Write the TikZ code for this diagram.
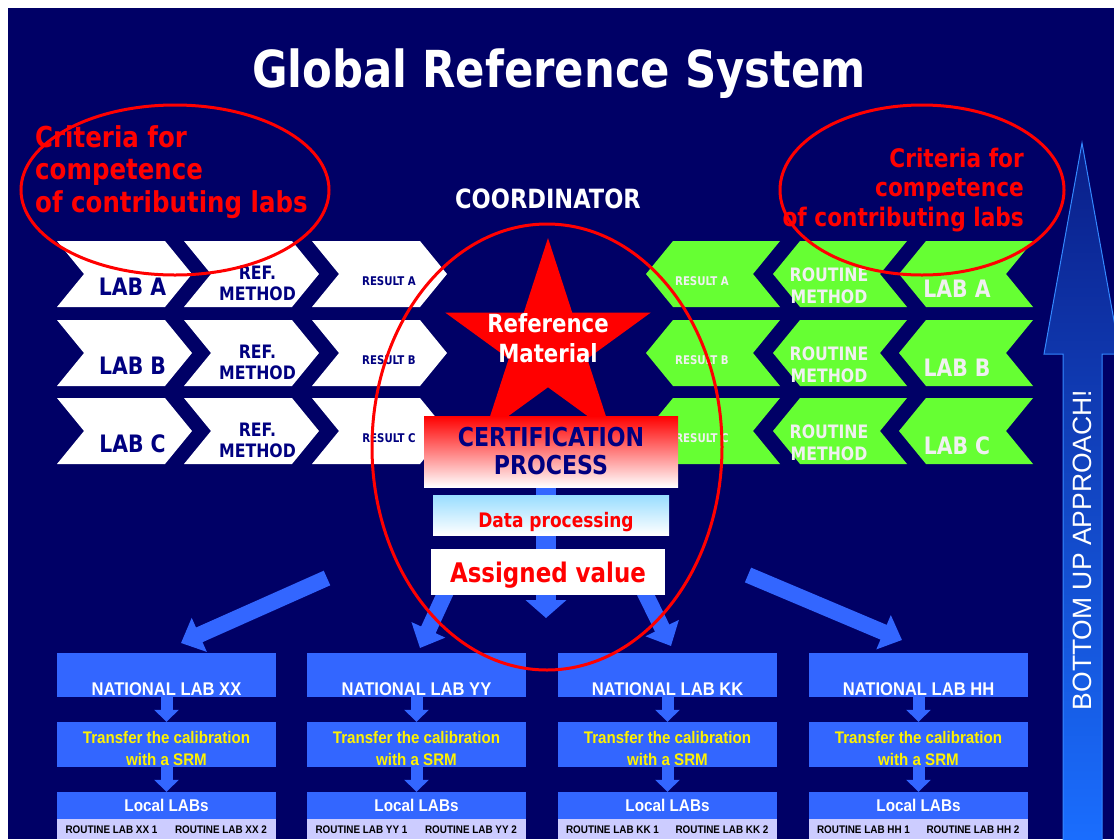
\documentclass[tikz,border=0pt]{standalone}
\usepackage{fontspec}
\setmainfont{DejaVu Sans}[FakeStretch=0.85]
\newfontfamily\arialfont{Liberation Sans}[FakeStretch=0.9]
\newfontfamily\arialplain{Liberation Sans}
\usepackage{tikz}
\usetikzlibrary{positioning, arrows.meta, shapes.geometric, calc}

\definecolor{bgnavy}{HTML}{000066}
\definecolor{labnavy}{HTML}{000080}
\definecolor{boxblue}{HTML}{3366FF}
\definecolor{chevgreen}{HTML}{66FF33}
\definecolor{stripviolet}{HTML}{CCCCFF}
\definecolor{paletext}{HTML}{F0F0F0}
\definecolor{skyblue}{HTML}{99DDFF}
\definecolor{updark}{HTML}{0A1E88}
\definecolor{uplight}{HTML}{1A6EFF}
\definecolor{upedge}{HTML}{3388FF}

\begin{document}
\begin{tikzpicture}[x=1pt, y=-1pt,
  txt/.style={anchor=base, inner sep=0pt, font=\bfseries},
  navytxt/.style={txt, text=labnavy},
  greentxt/.style={txt, text=paletext},
  bigarrow/.style={boxblue, line width=16pt, -{Triangle[length=20pt,width=36pt]}},
  midarrow/.style={boxblue, line width=20pt, -{Triangle[length=18pt,width=40pt]}},
  smallarrow/.style={boxblue, line width=12pt, -{Triangle[length=12pt,width=24pt]}},
  natbox/.style={fill=boxblue, minimum width=219pt, minimum height=44pt, inner sep=0pt,
    text height=40pt, text depth=0pt, text=white, font=\arialfont\bfseries\fontsize{18.4}{20}\selectfont},
  trbox/.style={fill=boxblue, minimum width=219pt, minimum height=45pt, inner sep=0pt,
    text height=41pt, text depth=0pt,
    align=center, text=yellow, font=\arialfont\bfseries\fontsize{16.8}{22}\selectfont},
  locbox/.style={fill=boxblue, minimum width=219pt, minimum height=27pt, inner sep=0pt,
    text=white, font=\arialfont\bfseries\fontsize{17}{20}\selectfont},
  stripbox/.style={fill=stripviolet, minimum width=219pt, minimum height=20pt, inner sep=0pt},
  striptxt/.style={anchor=base, inner sep=0pt, font=\arialfont\bfseries\fontsize{11}{12}\selectfont},
  ringmark/.style={red, line width=3pt},
]
  % Frame
  \useasboundingbox (0,0) rectangle (1114,839);
  \fill[white] (0,0) rectangle (1114,839);
  \fill[bgnavy] (8,8) rectangle (1114,839);

  % Title
  \node[txt, text=white, font=\bfseries\fontsize{51}{55}\selectfont] (title) at (559,87) {Global Reference System};
  \node[txt, text=white, font=\bfseries\fontsize{26.5}{28}\selectfont] (coord) at (548,208) {COORDINATOR};

  % Reference side: labs, methods, results
  \foreach \yt/\r in {241/A,320/B,398/C}{
    \foreach \xl in {57,184,312}{
      \fill[white] (\xl,\yt) -- ++(108,0) -- ++(27,33) -- ++(-27,33) -- ++(-108,0) -- ++(27,-33) -- cycle;
    }
    \node[navytxt, font=\bfseries\fontsize{24}{26}\selectfont] (refLab\r) at (132.5,\yt+54) {LAB \r};
    \node[navytxt, align=center, font=\bfseries\fontsize{18.5}{21}\selectfont] (refMeth\r) at (257.5,\yt+59) {REF.\\METHOD};
    \node[navytxt, font=\bfseries\fontsize{12}{13}\selectfont] (refRes\r) at (389,\yt+44) {RESULT \r};
  }

  % Routine side
  \foreach \yt/\r in {241/A,320/B,398/C}{
    \foreach \xr in {780,907,1033}{
      \fill[chevgreen] (\xr,\yt) -- ++(-107,0) -- ++(-27,33) -- ++(27,33) -- ++(107,0) -- ++(-27,-33) -- cycle;
    }
    \node[greentxt, font=\bfseries\fontsize{12}{13}\selectfont] (rouRes\r) at (702,\yt+44) {RESULT \r};
    \node[greentxt, align=center, font=\bfseries\fontsize{18.5}{22}\selectfont] (rouMeth\r) at (829,\yt+62) {ROUTINE\\METHOD};
    \node[greentxt, font=\bfseries\fontsize{24}{26}\selectfont] (rouLab\r) at (957,\yt+56) {LAB \r};
  }

  % Bottom up arrow
  \shade[top color=updark, bottom color=uplight, draw=upedge, line width=1pt]
    (1082,143) -- (1120,354) -- (1102,354) -- (1102,845) -- (1063,845) -- (1063,354) -- (1044,354) -- cycle;
  \node[rotate=90, inner sep=0pt, text=white, font=\arialplain\fontsize{26.5}{28}\selectfont] (bottomup) at (1082,550) {BOTTOM UP APPROACH!};

  % Certification chain
  \coordinate (chainTop) at (546,487);
  \coordinate (chainEnd) at (546,618);
  \draw[midarrow] (chainTop) -- (chainEnd);
  \coordinate (d2s) at (449,585);
  \coordinate (d2e) at (420,648);
  \coordinate (d4s) at (641,585);
  \coordinate (d4e) at (671,646);
  \draw[bigarrow] (d2s) -- (d2e);
  \draw[bigarrow] (d4s) -- (d4e);

  \node[star, star points=5, star point ratio=2.618, minimum size=216pt, inner sep=0pt, fill=red] (star) at (548,346) {};
  \node[txt, text=white, align=center, font=\bfseries\fontsize{25}{30}\selectfont] (refmat) at (548,362) {Reference\\Material};

  \node[top color=red, bottom color=white, minimum width=254pt, minimum height=71pt, inner sep=0pt,
    align=center, text=labnavy, font=\bfseries\fontsize{26}{28}\selectfont] (cert) at (551,451.5) {CERTIFICATION\\PROCESS};
  \node[top color=skyblue, bottom color=white, minimum width=236pt, minimum height=40pt, inner sep=0pt,
    text height=24pt, text depth=0pt, text=red, font=\bfseries\fontsize{20}{22}\selectfont] (dataproc) at (551,515) {\hspace{10pt}Data processing};
  \node[fill=white, minimum width=234pt, minimum height=46pt, inner sep=0pt,
    text height=20pt, text depth=0pt, text=red, font=\bfseries\fontsize{27}{29}\selectfont] (assigned) at (548,572) {Assigned value};

  % Outer distribution arrows
  \coordinate (d1s) at (327,578);
  \coordinate (d1e) at (181,643);
  \coordinate (d5s) at (748,575);
  \coordinate (d5e) at (902,640);
  \draw[bigarrow] (d1s) -- (d1e);
  \draw[bigarrow] (d5s) -- (d5e);

  % National labs
  \foreach \xo/\tag in {57/XX,307/YY,558/KK,809/HH}{
    \node[natbox] (nat\tag) at (\xo+109.5,675) {NATIONAL LAB \tag};
    \node[trbox] (tr\tag) at (\xo+109.5,744.5) {Transfer the calibration\\with a SRM};
    \node[locbox] (loc\tag) at (\xo+109.5,805.5) {Local LABs};
    \node[stripbox] (strip\tag) at (\xo+109.5,829) {};
    \node[striptxt] (rl\tag-1) at (\xo+54.5,833) {ROUTINE LAB \tag\ 1};
    \node[striptxt] (rl\tag-2) at (\xo+164,833) {ROUTINE LAB \tag\ 2};
    \draw[smallarrow] (nat\tag) -- (tr\tag);
    \draw[smallarrow] (tr\tag) -- (loc\tag);
  }

  % Red rings
  \draw[ringmark] (175,190) ellipse [x radius=154pt, y radius=85pt];
  \draw[ringmark] (922,190) ellipse [x radius=142pt, y radius=85pt];
  \draw[ringmark] (547,447) ellipse [x radius=175pt, y radius=223pt];
  \node[anchor=base west, inner sep=0pt, align=left, text=red, font=\bfseries\fontsize{28.8}{32.5}\selectfont] (critL) at (35,212) {Criteria for\\competence\\of contributing labs};
  \node[anchor=base east, inner sep=0pt, align=right, text=red, font=\bfseries\fontsize{25.5}{29.5}\selectfont] (critR) at (1024,226) {Criteria for\\competence\\of contributing labs};
\end{tikzpicture}
\end{document}
